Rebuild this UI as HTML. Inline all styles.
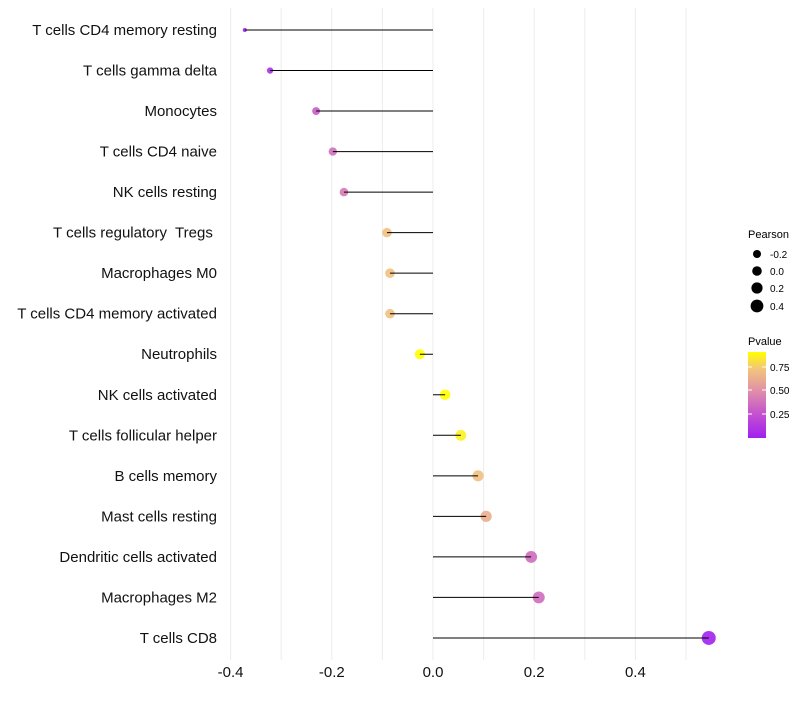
<!DOCTYPE html>
<html><head><meta charset="utf-8"><style>
body{margin:0;background:#fff;font-family:"Liberation Sans",Arial,sans-serif}
text{white-space:pre}
</style></head><body>
<svg id="chart" width="800" height="700" xmlns="http://www.w3.org/2000/svg">
<defs><linearGradient id="pg" x1="0" y1="1" x2="0" y2="0">
<stop offset="0" stop-color="#a020f0"/><stop offset="0.3" stop-color="#c656cc"/><stop offset="0.55" stop-color="#e090a8"/><stop offset="0.8" stop-color="#f2c47c"/><stop offset="1" stop-color="#ffff00"/></linearGradient></defs>
<g id="grid"></g><g id="marks"></g><g id="labels"></g>
<g font-size="10">
<text x="748" y="238" font-size="11">Pearson</text>
<circle cx="757" cy="254" r="4" fill="#000"/><text x="770" y="258">-0.2</text>
<circle cx="757" cy="271" r="4.8" fill="#000"/><text x="770" y="275">0.0</text>
<circle cx="757" cy="288" r="5.6" fill="#000"/><text x="770" y="292">0.2</text>
<circle cx="757" cy="306" r="6.4" fill="#000"/><text x="770" y="310">0.4</text>
</g>
<g font-size="10">
<text x="748" y="345" font-size="11">Pvalue</text>
<rect x="748" y="352" width="18" height="86" fill="url(#pg)"/>
<line x1="748" y1="367" x2="752" y2="367" stroke="#fff"/><line x1="762" y1="367" x2="766" y2="367" stroke="#fff"/>
<line x1="748" y1="390" x2="752" y2="390" stroke="#fff"/><line x1="762" y1="390" x2="766" y2="390" stroke="#fff"/>
<line x1="748" y1="414" x2="752" y2="414" stroke="#fff"/><line x1="762" y1="414" x2="766" y2="414" stroke="#fff"/>
<text x="770" y="371">0.75</text><text x="770" y="394">0.50</text><text x="770" y="418">0.25</text>
</g>
</svg>
<script>
const categories=["T cells CD4 memory resting","T cells gamma delta","Monocytes","T cells CD4 naive","NK cells resting","T cells regulatory  Tregs ","Macrophages M0","T cells CD4 memory activated","Neutrophils","NK cells activated","T cells follicular helper","B cells memory","Mast cells resting","Dendritic cells activated","Macrophages M2","T cells CD8"];
const pearson=[-0.372,-0.322,-0.231,-0.198,-0.176,-0.091,-0.085,-0.085,-0.026,0.024,0.055,0.089,0.105,0.194,0.209,0.545];
const pvalues=[0.01,0.08,0.30,0.38,0.42,0.72,0.72,0.72,0.97,0.93,0.88,0.72,0.64,0.36,0.36,0.01];
const xTicks=[-0.4,-0.2,0,0.2,0.4];
const xTickLabels=["-0.4","-0.2","0.0","0.2","0.4"];
const NS="http://www.w3.org/2000/svg";
const x=v=>433+v*506;
const y=i=>30+i*40.53;
const rad=v=>2+5*Math.sqrt(Math.max(0,(v+0.372)/0.917));
const stops=[[0,[160,32,240]],[0.3,[198,86,204]],[0.55,[224,144,168]],[0.8,[242,196,124]],[1,[255,255,0]]];
function col(p){p=Math.max(0,Math.min(1,p/0.92));for(let k=1;k<stops.length;k++){if(p<=stops[k][0]){const a=stops[k-1],b=stops[k],t=(p-a[0])/(b[0]-a[0]);return"rgb("+a[1].map((c,j)=>Math.round(c+(b[1][j]-c)*t)).join(",")+")";}}return"rgb(255,255,0)";}
function mk(tag,at,parent){const e=document.createElementNS(NS,tag);for(const k in at)e.setAttribute(k,at[k]);document.getElementById(parent).appendChild(e);return e;}
for(let v=-0.4;v<=0.55;v+=0.1){const l=mk("line",{x1:x(v),x2:x(v),y1:8,y2:660,stroke:"#ececec","stroke-width":1},"grid");

}
xTicks.forEach((t,i)=>{const tx=mk("text",{x:x(t),y:677,"text-anchor":"middle","font-size":15,fill:"#111"},"labels");tx.textContent=xTickLabels[i];

});
categories.forEach((c,i)=>{
const t=mk("text",{x:217,y:y(i)+5,"text-anchor":"end","font-size":15,fill:"#111"},"labels");t.textContent=c;


const d=mk("circle",{cx:x(pearson[i]),cy:y(i),r:rad(pearson[i]),fill:col(pvalues[i]),"fill-opacity":0.9},"marks");


const l=mk("line",{x1:x(0),x2:x(pearson[i]),y1:y(i),y2:y(i),stroke:"#000","stroke-width":1},"marks");


});
</script>
</body></html>
